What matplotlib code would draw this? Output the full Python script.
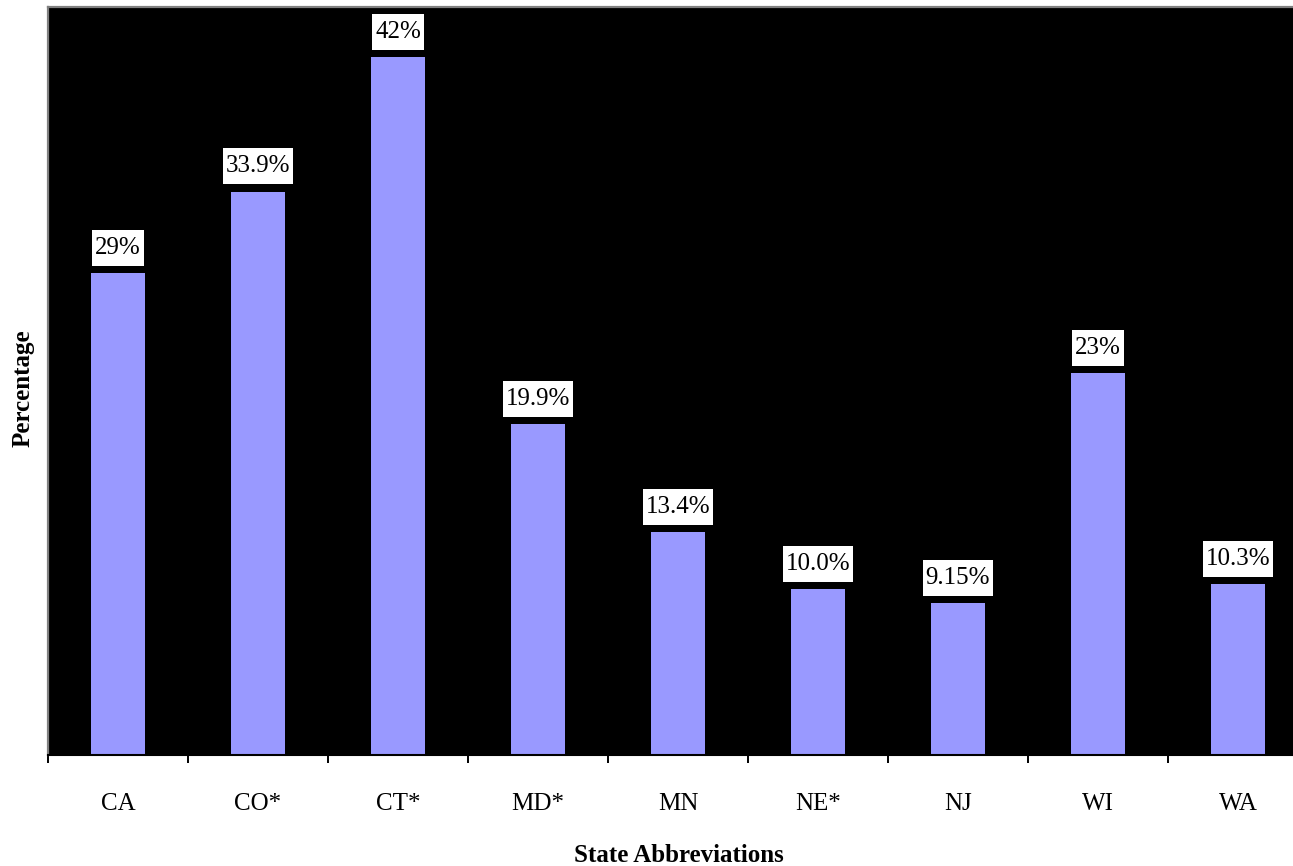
import matplotlib
matplotlib.use("Agg")
import matplotlib.pyplot as plt
from matplotlib.path import Path

states = ["CA", "CO*", "CT*", "MD*", "MN", "NE*", "NJ", "WI", "WA"]
values = [29.0, 33.9, 42.0, 19.9, 13.4, 10.0, 9.15, 23.0, 10.3]
value_labels = ["29%", "33.9%", "42%", "19.9%", "13.4%", "10.0%", "9.15%", "23%", "10.3%"]

plt.rcParams["font.family"] = ["Liberation Serif", "DejaVu Serif"]

W, H = 1293, 866
fig = plt.figure(figsize=(W / 100, H / 100), dpi=100)
fig.patch.set_facecolor("white")

# plot area (runs slightly past the right edge of the canvas)
ax = fig.add_axes([48 / W, (H - 755) / H, 1260 / W, 748 / H])
ax.set_facecolor("black")
ax.set_xlim(0, len(states))
ax.set_ylim(0, 45)

centers = [i + 0.5 for i in range(len(states))]
ax.bar(centers, values, width=0.386, color="#9999FF", zorder=2)


def label_box(x0, y0, width, height, mutation_size):
    """Rectangle around a data label, padded more vertically than horizontally."""
    px = 0.12 * mutation_size
    py = 0.28 * mutation_size
    x0, y0 = x0 - px, y0 - py
    x1, y1 = x0 + width + 2 * px, y0 + height + 2 * py
    return Path([(x0, y0), (x1, y0), (x1, y1), (x0, y1), (x0, y0)], closed=True)


for x, v, lab in zip(centers, values, value_labels):
    ax.annotate(lab, xy=(x, v), xytext=(0, 10.1), textcoords="offset points",
                ha="center", va="bottom", fontsize=18, color="black",
                annotation_clip=False, zorder=5,
                bbox=dict(boxstyle=label_box, fc="white", ec="none"))

# spines
for side in ("left", "top"):
    ax.spines[side].set_color("#808080")
    ax.spines[side].set_linewidth(1.6)
ax.spines["right"].set_visible(False)
ax.spines["bottom"].set_color("black")
ax.spines["bottom"].set_linewidth(1.5)

# y axis: no ticks
ax.set_yticks([])

# x axis: tick marks at category boundaries, labels at centers
ax.set_xticks(range(len(states) + 1))
ax.set_xticklabels([])
ax.tick_params(axis="x", which="major", length=5.8, width=1.4, color="black", direction="out")
ax.set_xticks(centers, minor=True)
ax.set_xticklabels(states, minor=True, fontsize=18)
ax.tick_params(axis="x", which="minor", length=0, pad=27)

fig.text(679 / W, 1 - 862 / H, "State Abbreviations", ha="center", va="baseline",
         fontsize=18, fontweight="bold")
fig.text(23 / W, 1 - 388 / H, "Percentage", ha="center", va="center",
         rotation=90, fontsize=18, fontweight="bold")

fig.savefig("out.png", dpi=100, facecolor="white")
